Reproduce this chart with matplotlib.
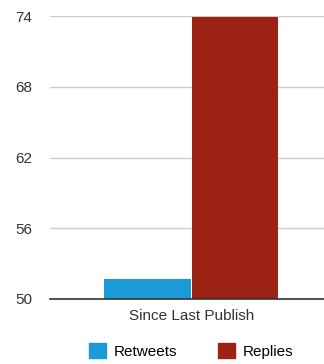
import matplotlib
matplotlib.use("Agg")
import matplotlib.pyplot as plt
from matplotlib.patches import Patch

plt.rcParams["font.family"] = ["Liberation Sans", "DejaVu Sans"]

categories = ["Since Last Publish"]
series = ["Retweets", "Replies"]
retweets = [51.7]
replies = [73.9]
yticks = [50, 56, 62, 68, 74]
COLORS = ["#1a9ad6", "#9c2313"]

fig = plt.figure(figsize=(3.24, 3.64), dpi=100)
ax = fig.add_axes([50 / 324, 65 / 364, 274 / 324, 283 / 364])

w = 0.315
ax.bar([-0.16], retweets, width=w, bottom=0, color=COLORS[0], zorder=3)
ax.bar([0.16], replies, width=w, bottom=0, color=COLORS[1], zorder=3)

ax.set_ylim(50, 74)
ax.set_xlim(-0.516, 0.484)
ax.set_yticks(yticks)
ax.set_yticklabels([str(t) for t in yticks], fontsize=11, color="#333333")
ax.yaxis.grid(True, color="#cccccc", linewidth=1, zorder=0)
ax.tick_params(axis="y", length=0, pad=13)
ax.set_xticks([0.0])
ax.set_xticklabels(categories, fontsize=11, color="#333333")
ax.tick_params(axis="x", length=0, pad=7)
for s in ["top", "right", "left"]:
    ax.spines[s].set_visible(False)
ax.spines["bottom"].set_color("#333333")
ax.spines["bottom"].set_linewidth(1.2)
ax.spines["bottom"].set_zorder(4)

handles = [Patch(color=c, label=l) for c, l in zip(COLORS, series)]
fig.legend(handles=handles, loc="center", bbox_to_anchor=(191 / 324, 1 - 351 / 364),
           ncol=2, frameon=False, fontsize=11, handlelength=1.1, handleheight=1.1,
           handletextpad=0.5, columnspacing=2.7)

fig.savefig("out.png", dpi=100)
